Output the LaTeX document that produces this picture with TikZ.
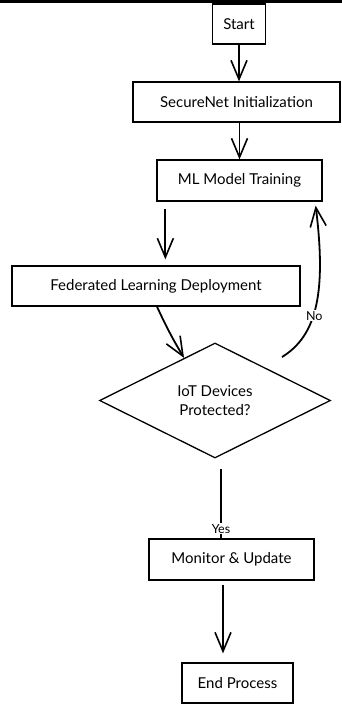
\documentclass[tikz,border=0pt]{standalone}
\usepackage{fontspec}
\setmainfont{Lato}
\usetikzlibrary{shapes.geometric,arrows.meta}
\begin{document}
\begin{tikzpicture}[x=1pt,y=-1pt,
  box/.style={draw, line width=1.3pt, inner sep=0pt, font=\fontsize{15}{18}\selectfont},
  dec/.style={draw, diamond, line width=1.3pt, inner sep=0pt, align=center, font=\fontsize{15}{19}\selectfont},
  arr/.style={line width=1.8pt, -{Straight Barb[length=19pt,width=16pt,line width=1.6pt]}},
  plain/.style={line width=1.8pt},
  lbl/.style={fill=white, inner sep=1pt, font=\fontsize{12.5}{14}\selectfont}]
\useasboundingbox (0,0) rectangle (342,704);
\fill[black] (0,0) rectangle (342,3);
\node[box, minimum width=53pt, minimum height=40pt] (start) at (239,24) {Start};
\node[box, minimum width=207pt, minimum height=40pt] (init) at (236.5,102) {SecureNet Initialization};
\node[box, minimum width=165pt, minimum height=41pt] (ml) at (239.5,180.5) {ML Model Training};
\node[box, minimum width=288pt, minimum height=40pt] (fed) at (156,286) {Federated Learning Deployment};
\node[dec, minimum width=231pt, minimum height=115pt] (dia) at (215,400.5) {IoT Devices\\Protected?};
\node[box, minimum width=165pt, minimum height=41pt] (mon) at (231.5,559.5) {Monitor \& Update};
\node[box, minimum width=111pt, minimum height=40pt] (end) at (237.5,683) {End Process};
\coordinate (nostart) at (282,357);
\draw[arr] (start.south) -- (start.south |- init.north);
\draw[arr] (ml.north |- init.south) -- (ml.north);
\draw[arr] ([xshift=9pt,yshift=-7pt]ml.south west) -- ([xshift=154pt,yshift=6pt]fed.north west);
\draw[arr] ([xshift=1pt]fed.south) to[bend right=3] (dia.126);
\draw[arr] (nostart) .. controls (318,335) and (326,290) .. node[lbl, pos=0.42, xshift=1pt] {No} ([xshift=-7pt,yshift=-4pt]ml.south east);
\draw[plain] ([xshift=6pt,yshift=-10pt]dia.south) -- ([xshift=-10.5pt]mon.north) node[lbl, pos=0.86] {Yes};
\draw[arr] ([xshift=-8.5pt,yshift=-4pt]mon.south) -- ([xshift=-14.5pt,yshift=9pt]end.north);
\end{tikzpicture}
\end{document}
